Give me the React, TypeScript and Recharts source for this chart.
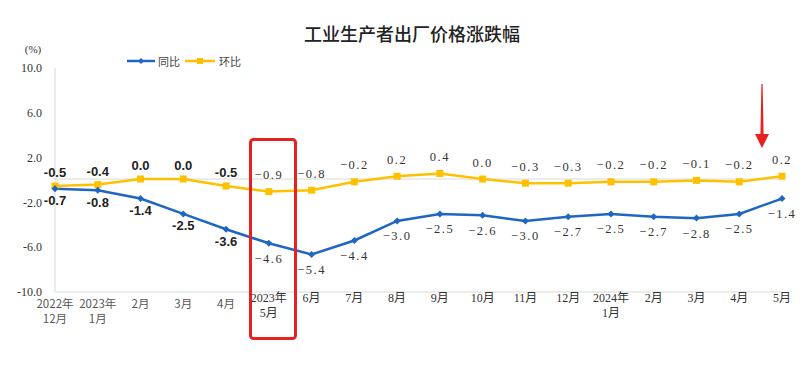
import { LineChart, Line, XAxis, YAxis, ReferenceLine, LabelList } from "recharts";

const months = [
  "2022年\n12月", "2023年\n1月", "2月", "3月", "4月", "2023年\n5月", "6月", "7月", "8月",
  "9月", "10月", "11月", "12月", "2024年\n1月", "2月", "3月", "4月", "5月",
];
// 同比
const yoy = [-0.7, -0.8, -1.4, -2.5, -3.6, -4.6, -5.4, -4.4, -3.0, -2.5, -2.6, -3.0, -2.7, -2.5, -2.7, -2.8, -2.5, -1.4];
// 环比
const mom = [-0.5, -0.4, 0.0, 0.0, -0.5, -0.9, -0.8, -0.2, 0.2, 0.4, 0.0, -0.3, -0.3, -0.2, -0.2, -0.1, -0.2, 0.2];
const yTicks = [-10, -6, -2, 2, 6, 10];

const data = months.map((m, i) => ({ month: m, yoy: yoy[i], mom: mom[i] }));

const BLUE = "#1f66c4";
const YELLOW = "#ffc000";
const RED = "#e8201f";
const SERIF = '"Liberation Serif", "Noto Sans CJK SC", serif';
const SANS = '"Liberation Sans", "Noto Sans CJK SC", sans-serif';
const CJK = '"Noto Sans CJK SC", sans-serif';

// the first five months come from a different chart style
const oldStyle = (i: number) => i < 5;

const fmt = (v: number, i: number) => {
  const s = v.toFixed(1);
  if (oldStyle(i)) return s;
  return s.replace("-", "−");
};

function MonthTick(props: any) {
  const { x, y, payload, index } = props;
  const lines = String(payload.value).split("\n");
  const sans = oldStyle(index);
  const base = y + (sans ? 11 : 6);
  return (
    <g>
      {lines.map((ln, k) => (
        <text
          key={k}
          x={x}
          y={base + k * 14.5}
          textAnchor="middle"
          dominantBaseline="central"
          fontSize={sans ? 11.5 : 12}
          fontFamily={sans ? CJK : SERIF}
          fill={sans ? "#555" : "#333"}
        >
          {ln}
        </text>
      ))}
    </g>
  );
}

function momLabel(p: any) {
  const { x, y, value, index } = p;
  const sans = oldStyle(index);
  return (
    <text
      x={x}
      y={y - (sans ? 13.5 : 16.5)}
      textAnchor="middle"
      dominantBaseline="central"
      fontSize={sans ? 13 : 12.5}
      fontWeight={sans ? 700 : 400}
      fontFamily={sans ? SANS : SERIF}
      letterSpacing={sans ? 0 : 1.5}
      fill={sans ? "#222" : "#333"}
    >
      {fmt(value, index)}
    </text>
  );
}

function yoyLabel(p: any) {
  const { x, y, value, index } = p;
  const sans = oldStyle(index);
  return (
    <text
      x={x}
      y={y + (sans ? 12 : 15.5)}
      textAnchor="middle"
      dominantBaseline="central"
      fontSize={sans ? 13 : 12.5}
      fontWeight={sans ? 700 : 400}
      fontFamily={sans ? SANS : SERIF}
      letterSpacing={sans ? 0 : 1.5}
      fill={sans ? "#222" : "#333"}
    >
      {fmt(value, index)}
    </text>
  );
}

const diamondDot = (p: any) => {
  const { cx, cy, index } = p;
  const r = 3.5;
  return (
    <path
      key={`d${index}`}
      d={`M${cx} ${cy - r} L${cx + r} ${cy} L${cx} ${cy + r} L${cx - r} ${cy} Z`}
      fill={BLUE}
    />
  );
};

const squareDot = (p: any) => {
  const { cx, cy, index } = p;
  return <rect key={`s${index}`} x={cx - 3.5} y={cy - 3.5} width={7} height={7} fill={YELLOW} />;
};

export default function App() {
  return (
    <div style={{ position: "absolute", left: 0, top: 0, width: 805, height: 365, background: "#fff" }}>
      <LineChart
        width={805}
        height={365}
        data={data}
        margin={{ top: 68, right: 23, bottom: 33, left: 10 }}
      >
        <XAxis
          dataKey="month"
          height={40}
          tickLine={false}
          tickSize={0}
          tickMargin={0}
          interval={0}
          axisLine={{ stroke: "#d9d9d9" }}
          tick={<MonthTick />}
        />
        <YAxis
          yAxisId="tick"
          type="number"
          domain={[-10, 10]}
          ticks={yTicks}
          allowDataOverflow
          width={45}
          tickLine={false}
          tickSize={0}
          tickMargin={13}
          axisLine={{ stroke: "#d9d9d9" }}
          tickFormatter={(v: number) => v.toFixed(1)}
          tick={{ fontSize: 12, fontFamily: SERIF, fill: "#333" }}
        />
        <YAxis
          yAxisId="right"
          orientation="right"
          type="number"
          domain={[-10, 10]}
          allowDataOverflow
          width={0}
          tick={false}
          tickLine={false}
          axisLine={{ stroke: "#e3e3e3" }}
        />
        <YAxis yAxisId="val" type="number" domain={[-8.09, 7.95]} allowDataOverflow hide />
        <ReferenceLine yAxisId="val" y={0} stroke="#d9d9d9" />
        <Line
          yAxisId="val"
          dataKey="mom"
          stroke={YELLOW}
          strokeWidth={2.5}
          dot={squareDot}
          activeDot={false}
          isAnimationActive={false}
        >
          <LabelList dataKey="mom" content={momLabel} />
        </Line>
        <Line
          yAxisId="val"
          dataKey="yoy"
          stroke={BLUE}
          strokeWidth={2.5}
          dot={diamondDot}
          activeDot={false}
          isAnimationActive={false}
        >
          <LabelList dataKey="yoy" content={yoyLabel} />
        </Line>
      </LineChart>
      <svg
        width={805}
        height={365}
        style={{ position: "absolute", left: 0, top: 0, pointerEvents: "none" }}
      >
        <text x={412} y={33} textAnchor="middle" dominantBaseline="central" fontSize={18} fontWeight={500} fontFamily={CJK} fill="#222">
          工业生产者出厂价格涨跌幅
        </text>
        <text x={33} y={49} textAnchor="middle" dominantBaseline="central" fontSize={11} fontFamily={SERIF} fill="#333">
          (%)
        </text>
        <line x1={127} y1={61} x2={155} y2={61} stroke={BLUE} strokeWidth={2.5} />
        <path d="M141 58 L144 61 L141 64 L138 61 Z" fill={BLUE} />
        <text x={158} y={61} dominantBaseline="central" fontSize={11} fontFamily={CJK} fill="#444">
          同比
        </text>
        <line x1={185} y1={61} x2={215} y2={61} stroke={YELLOW} strokeWidth={2.5} />
        <rect x={197} y={58} width={6} height={6} fill={YELLOW} />
        <text x={219} y={61} dominantBaseline="central" fontSize={11} fontFamily={CJK} fill="#444">
          环比
        </text>
        <rect x={250.5} y={139.5} width={45} height={199} rx={3} fill="none" stroke={RED} strokeWidth={3} />
        <path d="M761.4 84 L762.6 84 L763.6 136 L760.4 136 Z" fill={RED} />
        <path d="M755 134 L769 134 L762 148 Z" fill={RED} />
      </svg>
    </div>
  );
}
